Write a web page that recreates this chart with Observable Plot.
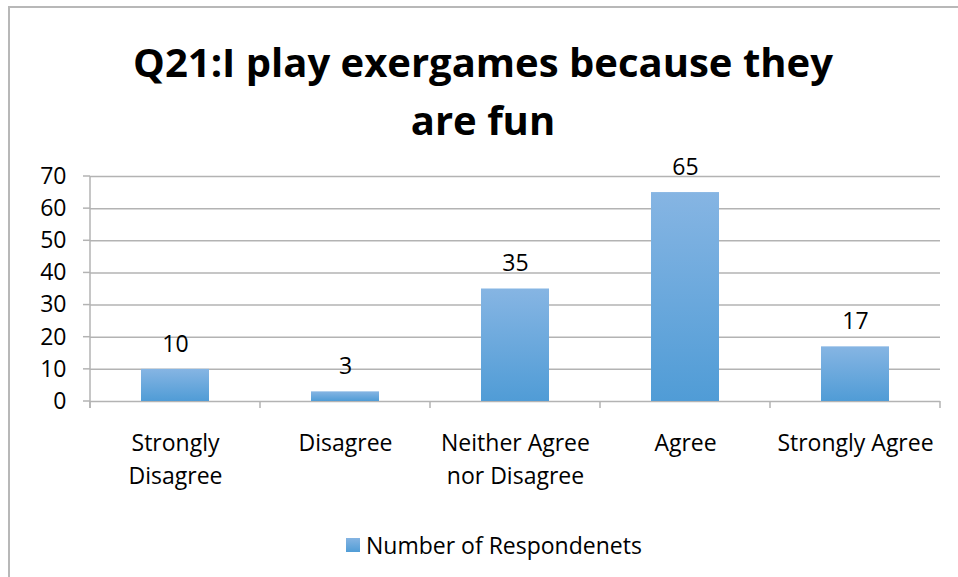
<!DOCTYPE html>
<html>
<head>
<meta charset="utf-8">
<script src="https://cdn.jsdelivr.net/npm/d3@7"></script>
<script src="https://cdn.jsdelivr.net/npm/@observablehq/plot@0.6"></script>
<style>
  html, body { margin: 0; padding: 0; background: #fff; }
  #wrap { position: relative; width: 958px; height: 577px; overflow: hidden; font-family: "Open Sans", sans-serif; }
  #frame { position: absolute; left: 8px; top: 6px; width: 2000px; height: 2000px; border-left: 2px solid #b8b8b8; border-top: 2px solid #b8b8b8; }
  #title { position: absolute; left: 0; width: 966px; top: 33px; text-align: center; font-weight: bold; font-size: 40px; line-height: 58px; color: #000; }
  #chart { position: absolute; left: 0; top: 0; }
  #legend { position: absolute; left: 346px; top: 529px; font-size: 23px; color: #000; display: flex; align-items: center; }
  #legend .sw { width: 14px; height: 14px; background: linear-gradient(#85b4e2, #519dd6); margin-right: 6px; }
</style>
</head>
<body>
<div id="wrap">
  <div id="frame"></div>
  <div id="title">Q21:I play exergames because they<br>are fun</div>
  <div id="chart"></div>
  <div id="legend"><div class="sw"></div><span>Number of Respondenets</span></div>
</div>
<script>
const categories = ["Strongly Disagree", "Disagree", "Neither Agree nor Disagree", "Agree", "Strongly Agree"];
const tickLabels = ["Strongly\nDisagree", "Disagree", "Neither Agree\nnor Disagree", "Agree", "Strongly Agree"];
const respondents = [10, 3, 35, 65, 17];
const yTicks = [0, 10, 20, 30, 40, 50, 60, 70];

const data = categories.map((c, i) => ({cat: c, label: tickLabels[i], value: respondents[i]}));
const font = "'Open Sans', sans-serif";

const chart = Plot.plot({
  width: 958,
  height: 577,
  marginLeft: 90,
  marginRight: 18,
  marginTop: 176,
  marginBottom: 176,
  style: {fontFamily: font, fontSize: "23px", color: "#000", background: "transparent", overflow: "visible"},
  x: {domain: categories, paddingInner: 0.6, paddingOuter: 0.3, align: 0.5, axis: null},
  y: {domain: [0, 70], axis: null},
  marks: [
    Plot.ruleY(yTicks, {stroke: "#b3b3b3", strokeWidth: 1.5, strokeOpacity: 1}),
    Plot.barY(data, {x: "cat", y: "value", fill: "url(#barGrad)"}),
    Plot.text(data, {x: "cat", y: "value", text: d => String(d.value), dy: -25, fontSize: 23, fill: "#000"}),
    Plot.text(data, {x: "cat", y: 0, text: "label", dy: 27, lineAnchor: "top", lineHeight: 1.4, fontSize: 23, fill: "#000"}),
    Plot.text(yTicks, {y: d => d, text: d => String(d), frameAnchor: "left", textAnchor: "end", dx: -24, fontSize: 23, fill: "#000"})
  ]
});
document.getElementById("chart").appendChild(chart);

// gradient defs and axis lines drawn with the scales
const svg = d3.select(chart);
const defs = svg.insert("defs", ":first-child");
const g = defs.append("linearGradient").attr("id", "barGrad").attr("x1", 0).attr("y1", 0).attr("x2", 0).attr("y2", 1);
g.append("stop").attr("offset", "0%").attr("stop-color", "#86b5e3");
g.append("stop").attr("offset", "100%").attr("stop-color", "#509cd6");

const ys = chart.scale("y");
const left = 90, right = 958 - 18;
const y0 = ys.apply(0), yTop = ys.apply(70);
const axes = svg.append("g").attr("stroke", "#b3b3b3").attr("stroke-width", 1.5);
axes.append("line").attr("x1", left).attr("x2", left).attr("y1", yTop).attr("y2", y0 + 7);
yTicks.forEach(t => {
  const y = ys.apply(t);
  axes.append("line").attr("x1", left - 7).attr("x2", left).attr("y1", y).attr("y2", y);
});
const bw = (right - left) / categories.length;
for (let i = 0; i <= categories.length; i++) {
  const x = left + i * bw;
  axes.append("line").attr("x1", x).attr("x2", x).attr("y1", y0).attr("y2", y0 + 7);
}
</script>
</body>
</html>
